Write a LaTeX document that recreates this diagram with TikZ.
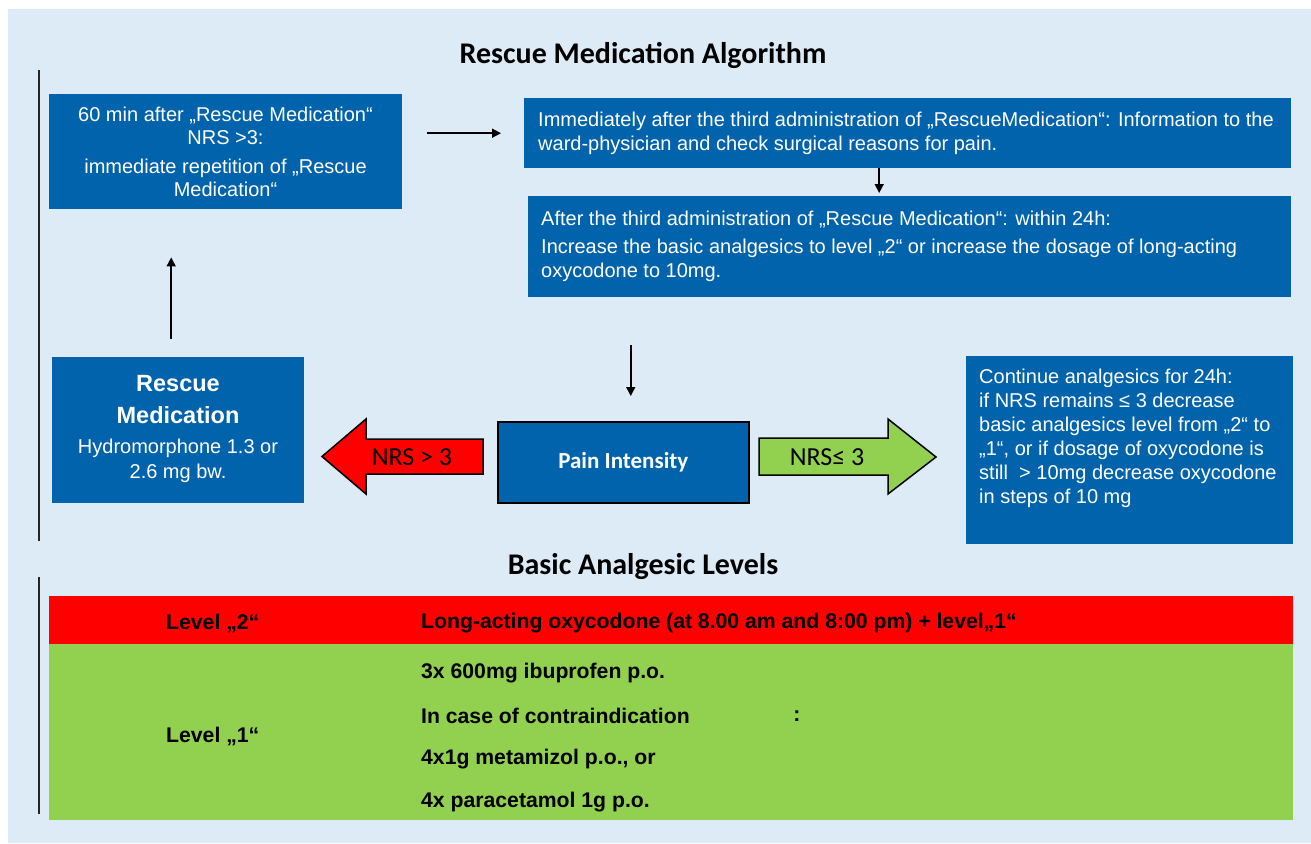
\documentclass[tikz,border=0pt]{standalone}
\usepackage{fontspec}
\setmainfont{Liberation Sans}
\newfontfamily\calib{Carlito}
\usetikzlibrary{arrows.meta}
\definecolor{bgblue}{RGB}{221,235,247}
\definecolor{boxblue}{RGB}{0,99,172}
\definecolor{lvlgreen}{RGB}{146,208,80}
\definecolor{lvlred}{RGB}{255,0,0}
\begin{document}
\begin{tikzpicture}[x=1pt,y=-1pt,
  bluebox/.style={fill=boxblue, draw=none, inner sep=0pt, anchor=north west},
  wtxt/.style={text=white, inner sep=0pt},
  arr/.style={draw=black, line width=1.5pt, -{Triangle[length=9pt,width=9pt]}},
  vline/.style={draw=black!85, line width=2.5pt},
  fatarrow/.style={draw=black, line width=1.5pt, line join=miter},
  heading/.style={font=\calib\bfseries\fontsize{30}{36}\selectfont, inner sep=0pt},
  tabtxt/.style={font=\bfseries\fontsize{21.2}{25}\selectfont, anchor=west, inner sep=0pt}
]
\useasboundingbox (0,0) rectangle (1311,843);
\fill[bgblue] (8,9) rectangle (1311,843);

% headings
\node[heading] (title) at (643,55) {Rescue Medication Algorithm};
\node[heading] (title2) at (643,567) {Basic Analgesic Levels};

% vertical lines
\draw[vline] (39,70) -- (39,541);
\draw[vline] (39,577) -- (39,814);

% boxes
\node[bluebox, minimum width=353pt, minimum height=115pt] (b1) at (49,94) {};
\node[wtxt, align=center, font=\fontsize{20}{23.5}\selectfont] (t1) at (225.5,152)
  {60 min after „Rescue Medication“\\NRS >3:\\[5pt]immediate repetition of „Rescue\\Medication“};

\node[bluebox, minimum width=767pt, minimum height=70pt] (b2) at (524,98) {};
\node[wtxt, align=left, anchor=west, font=\fontsize{20}{24}\selectfont] (t2) at (538,133)
  {Immediately after the third administration of „RescueMedication“: Information to the\\ward-physician and check surgical reasons for pain.};

\node[bluebox, minimum width=763pt, minimum height=101pt] (b3) at (528,196) {};
\node[wtxt, align=left, anchor=west, font=\fontsize{20}{24}\selectfont] (t3) at (541,246)
  {After the third administration of „Rescue Medication“: within 24h:\\[4pt]Increase the basic analgesics to level „2“ or increase the dosage of long-acting\\oxycodone to 10mg.};

\node[bluebox, minimum width=252pt, minimum height=146pt] (rescue) at (52,357) {};
\node[wtxt, align=center, font=\bfseries\fontsize{23.5}{32}\selectfont] (rt) at (178,400) {Rescue\\Medication};
\node[wtxt, align=center, font=\fontsize{20}{25}\selectfont] (rs) at (178,461) {Hydromorphone 1.3 or\\2.6 mg bw.};

\node[fill=boxblue, draw=black, line width=1.5pt, minimum width=251pt, minimum height=81pt, inner sep=0pt, anchor=north west] (pain) at (497,421) {};
\node[wtxt, font=\calib\bfseries\fontsize{23}{28}\selectfont] (pt) at (pain.center) {Pain Intensity};

\node[bluebox, minimum width=327pt, minimum height=188pt] (cont) at (966,356) {};
\node[wtxt, align=left, anchor=north west, font=\fontsize{20}{24}\selectfont] (ct) at (979,369)
  {Continue analgesics for 24h:\\if NRS remains ≤ 3 decrease\\basic analgesics level from „2“ to\\„1“, or if dosage of oxycodone is\\still \ > 10mg decrease oxycodone\\in steps of 10 mg};

% thin connectors
\draw[arr, shorten <=25pt, shorten >=23pt] (b1.east |- b2.west) -- (b2.west);
\coordinate (c23) at ([xshift=-28.5pt]b2.south);
\draw[arr, shorten >=3pt] (c23) -- (c23 |- b3.north);
\coordinate (cp) at ([xshift=7.5pt]pain.north);
\draw[arr, shorten <=48pt, shorten >=25pt] (cp |- b3.south) -- (cp);
\coordinate (cr) at ([xshift=-7pt]rescue.north);
\draw[arr, shorten <=18pt, shorten >=48pt] (cr) -- (cr |- b1.south);

% fat arrows
\draw[fatarrow, fill=lvlred] (483,439) -- (366,439) -- (366,419) -- (322,456.5) -- (366,494) -- (366,474) -- (483,474) -- cycle;
\node[font=\calib\fontsize{26}{30}\selectfont, inner sep=0pt] (nrs1) at (412,457) {NRS > 3};
\draw[fatarrow, fill=lvlgreen] (759,438) -- (888,438) -- (888,419) -- (936,457) -- (888,494) -- (888,475) -- (759,475) -- cycle;
\node[font=\calib\fontsize{26}{30}\selectfont, inner sep=0pt] (nrs2) at (827,457) {NRS≤ 3};

% level table
\fill[lvlred] (49,596) rectangle (1293,644);
\fill[lvlgreen] (49,644) rectangle (1293,820);
\node[tabtxt] (l2) at (166,623) {Level „2“};
\node[tabtxt] (l2t) at (421,623) {Long-acting oxycodone (at 8.00 am and 8:00 pm) + level„1“};
\node[tabtxt] (l1) at (166,736) {Level „1“};
\node[tabtxt] (l1a) at (421,673) {3x 600mg ibuprofen p.o.};
\node[tabtxt] (l1b) at (421,716) {In case of contraindication};
\node[font=\bfseries\fontsize{21.2}{25}\selectfont, inner sep=0pt] (colon) at (797,716) {:};
\node[tabtxt] (l1c) at (421,759) {4x1g metamizol p.o., or};
\node[tabtxt] (l1d) at (421,802) {4x paracetamol 1g p.o.};
\end{tikzpicture}
\end{document}
